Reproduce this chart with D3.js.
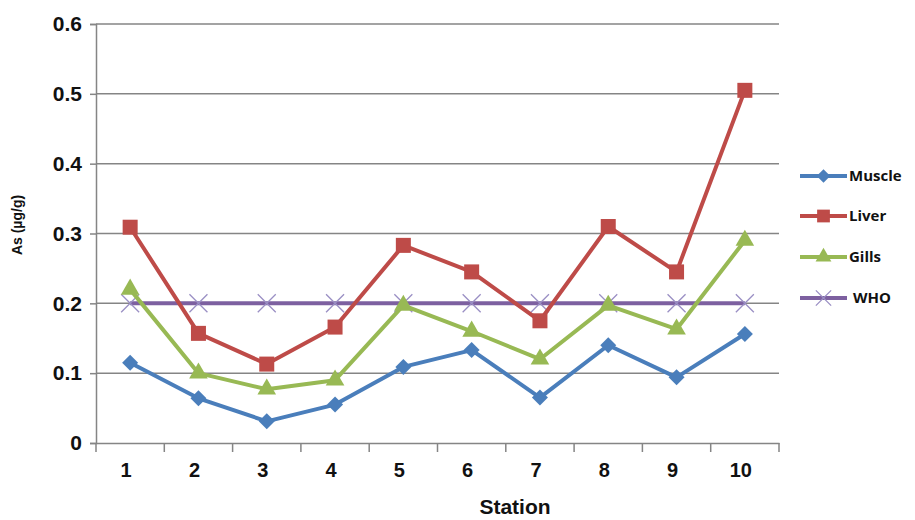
<!DOCTYPE html>
<html><head><meta charset="utf-8">
<script src="https://cdn.jsdelivr.net/npm/d3@7"></script>
<style>body{margin:0;background:#fff}svg{display:block}</style>
</head><body>
<svg id="c" width="915" height="520"></svg>
<script>
const stations = ["1","2","3","4","5","6","7","8","9","10"];
const muscle = [0.115,0.064,0.031,0.055,0.109,0.133,0.065,0.140,0.094,0.156];
const liver  = [0.309,0.157,0.113,0.166,0.283,0.245,0.175,0.310,0.245,0.505];
const gills  = [0.220,0.100,0.077,0.090,0.197,0.160,0.120,0.197,0.163,0.290];
const who    = [0.2,0.2,0.2,0.2,0.2,0.2,0.2,0.2,0.2,0.2];
const yTicks = [0,0.1,0.2,0.3,0.4,0.5,0.6];
const seriesNames = ["Muscle","Liver","Gills","WHO"];
const colors = ["#4a7ebb","#be4b48","#98b954","#7d60a0"];
const symbols = ["diamond","square","triangle","x"];
const seriesData = [muscle, liver, gills, who];

const svg = d3.select("#c");
const L=96, R=779, T=24, B=443;
const x = d3.scaleBand().domain(stations).range([L,R]);
const y = d3.scaleLinear().domain([0,0.6]).range([B,T]);

// gridlines
svg.append("g").selectAll("line").data(yTicks.slice(1)).join("line")
  .attr("x1",L).attr("x2",R).attr("y1",d=>y(d)).attr("y2",d=>y(d))
  .attr("stroke","#858585").attr("stroke-width",1.5);

// y axis
const ya = svg.append("g").attr("transform",`translate(${L},0)`)
  .call(d3.axisLeft(y).tickValues(yTicks).tickSize(6).tickPadding(8).tickFormat(d=>d===0?"0":d3.format(".1f")(d)));
ya.select(".domain").attr("stroke","#858585").attr("stroke-width",1.5);
ya.selectAll(".tick line").attr("stroke","#858585").attr("stroke-width",1.5);
ya.selectAll("text").attr("font-family","Liberation Sans, Arial, sans-serif").attr("font-weight","bold").attr("font-size",21).attr("fill","#111");

// x axis
const xa = svg.append("g").attr("transform",`translate(0,${B})`)
  .call(d3.axisBottom(x).tickSize(0).tickPadding(20));
xa.select(".domain").attr("stroke","#858585").attr("stroke-width",1.5);
xa.selectAll("text").attr("font-family","Liberation Sans, Arial, sans-serif").attr("font-weight","bold").attr("font-size",20).attr("fill","#111").attr("dx",-4);
// boundary ticks
const bounds = stations.map(s=>x(s)).concat([R]);
svg.append("g").selectAll("line").data(bounds).join("line")
  .attr("x1",d=>d).attr("x2",d=>d).attr("y1",B).attr("y2",B+9)
  .attr("stroke","#858585").attr("stroke-width",1.5);

const cx = s => x(s)+x.bandwidth()/2;

function drawMarker(g, type, color, px, py, scale){
  const k = scale||1;
  if(type==="diamond"){
    const s=8*k;
    g.append("path").attr("d",`M${px},${py-s}L${px+s},${py}L${px},${py+s}L${px-s},${py}Z`).attr("fill",color);
  } else if(type==="square"){
    const s=15*k;
    g.append("rect").attr("x",px-s/2).attr("y",py-s/2).attr("width",s).attr("height",s).attr("fill",color);
  } else if(type==="triangle"){
    g.append("path").attr("d",d3.symbol(d3.symbolTriangle, 150*k*k)()).attr("transform",`translate(${px},${py})`).attr("fill",color);
  } else {
    const s=9*k;
    g.append("path").attr("d",`M${px-s},${py-s}L${px+s},${py+s}M${px-s},${py+s}L${px+s},${py-s}`)
      .attr("stroke","#9a8fc4").attr("stroke-width",1.3).attr("fill","none");
  }
}

const order = [3,2,1,0];
order.forEach(i=>{
  const g = svg.append("g");
  const line = d3.line().x((d,j)=>cx(stations[j])).y(d=>y(d));
  g.append("path").datum(seriesData[i]).attr("d",line).attr("fill","none")
    .attr("stroke",colors[i]).attr("stroke-width",4).attr("stroke-linejoin","round");
  seriesData[i].forEach((v,j)=>drawMarker(g, symbols[i], colors[i], cx(stations[j]), y(v)));
});

// legend
const legY = [176,216,257,298];
const lg = svg.append("g");
seriesNames.forEach((n,i)=>{
  lg.append("line").attr("x1",800).attr("x2",847).attr("y1",legY[i]).attr("y2",legY[i])
    .attr("stroke",colors[i]).attr("stroke-width",4);
  drawMarker(lg, symbols[i], colors[i], 823.5, legY[i], 0.85);
  lg.append("text").attr("x", i===3?853:849).attr("y",legY[i]).attr("dy","0.35em")
    .attr("font-family","Open Sans, sans-serif").attr("font-weight","bold").attr("font-size",15)
    .attr("fill","#111").text(n);
});

// axis titles
svg.append("text").attr("transform","translate(22,225) rotate(-90)").attr("text-anchor","middle")
  .attr("font-family","Liberation Sans, Arial, sans-serif").attr("font-weight","bold").attr("font-size",14)
  .attr("fill","#111").text("As (µg/g)");
svg.append("text").attr("x",515).attr("y",514).attr("text-anchor","middle")
  .attr("font-family","Liberation Sans, Arial, sans-serif").attr("font-weight","bold").attr("font-size",21)
  .attr("fill","#111").text("Station");
</script>
</body></html>
